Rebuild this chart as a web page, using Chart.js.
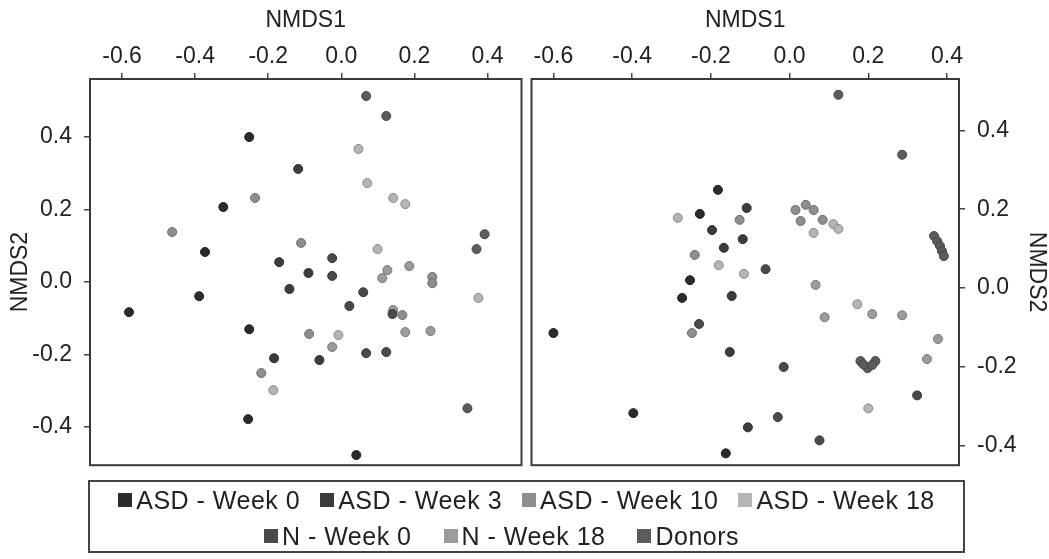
<!DOCTYPE html>
<html>
<head>
<meta charset="utf-8">
<script src="https://cdn.jsdelivr.net/npm/chart.js@4.4.1/dist/chart.umd.min.js"></script>
<style>
html,body{margin:0;padding:0;background:#fff;width:1049px;height:559px;overflow:hidden;font-family:"Liberation Sans",Arial,sans-serif;}
#w1{position:absolute;left:0;top:0;width:527px;height:491px;}
#w2{position:absolute;left:526px;top:0;width:523px;height:491px;}
#legend{position:absolute;left:88px;top:480px;width:873px;height:69px;border:2px solid #444;}
.row{position:absolute;left:0;right:0;height:30px;display:flex;justify-content:center;align-items:center;font-size:25px;letter-spacing:0.5px;color:#222;white-space:nowrap;}
#row1{top:3px;}
#row2{top:39px;padding-right:50px;box-sizing:border-box;}
.item{display:flex;align-items:center;margin:0 10px;}
#row2 .item{margin:0 16px;}
.sw{width:14px;height:14px;margin-right:4px;display:inline-block;}
</style>
</head>
<body>
<div id="w1"><canvas id="c1" width="527" height="491"></canvas></div>
<div id="w2"><canvas id="c2" width="523" height="491"></canvas></div>
<div id="legend"><div class="row" id="row1"></div><div class="row" id="row2"></div></div>
<script>
// ---- Data (NMDS1, NMDS2) ----
const groupNames = ["ASD - Week 0","ASD - Week 3","ASD - Week 10","ASD - Week 18","N - Week 0","N - Week 18","Donors"];
const groupColors = ["#2b2b2b","#3c3c3c","#8e8e8e","#b5b5b5","#4a4a4a","#9c9c9c","#5c5c5c"];
const xTicks = [-0.6,-0.4,-0.2,0.0,0.2,0.4];
const yTicks = [-0.4,-0.2,0.0,0.2,0.4];

// Left panel
const L_ASD_W0 = [[-0.252,0.40],[-0.323,0.207],[-0.373,0.083],[-0.581,-0.083],[-0.389,-0.039],[-0.252,-0.130],[-0.255,-0.378],[0.041,-0.477]];
const L_ASD_W3 = [[-0.118,0.312],[-0.170,0.055],[-0.090,0.025],[-0.142,-0.019],[-0.184,-0.210],[-0.060,-0.215]];
const L_ASD_W10 = [[-0.236,0.232],[-0.463,0.138],[-0.110,0.108],[-0.088,-0.143],[-0.219,-0.251],[0.249,0.014],[0.249,-0.003],[0.167,-0.091]];
const L_ASD_W18 = [[0.047,0.367],[0.071,0.273],[0.142,0.232],[0.175,0.215],[0.099,0.091],[0.375,-0.044],[-0.186,-0.298],[-0.008,-0.146]];
const L_N_W0 = [[-0.025,0.066],[-0.025,0.017],[0.060,-0.028],[0.022,-0.066],[0.068,-0.196],[0.123,-0.193],[0.140,-0.088]];
const L_N_W18 = [[0.186,0.044],[0.126,0.033],[0.112,0.011],[0.142,-0.077],[0.175,-0.138],[0.244,-0.135],[-0.025,-0.179]];
const L_DONORS = [[0.068,0.513],[0.123,0.458],[0.392,0.132],[0.370,0.091],[0.345,-0.348]];

// Right panel
const R_ASD_W0 = [[-0.182,0.249],[-0.228,0.188],[-0.253,0.020],[-0.273,-0.025],[-0.600,-0.114],[-0.397,-0.317],[-0.162,-0.419]];
const R_ASD_W3 = [[-0.109,0.203],[-0.197,0.147],[-0.119,0.124],[-0.167,0.102],[-0.147,-0.020],[-0.152,-0.162],[-0.106,-0.353]];
const R_ASD_W10 = [[-0.127,0.173],[-0.241,0.084],[-0.248,-0.114],[0.015,0.198],[0.041,0.211],[0.061,0.198],[0.028,0.170],[0.084,0.173]];
const R_ASD_W18 = [[-0.284,0.178],[-0.180,0.058],[-0.116,0.036],[0.111,0.162],[0.124,0.150],[0.061,0.140],[0.172,-0.041],[0.200,-0.305]];
const R_N_W0 = [[-0.061,0.048],[-0.015,-0.200],[-0.030,-0.327],[0.076,-0.386],[0.324,-0.272],[-0.230,-0.091]];
const R_N_W18 = [[0.066,0.008],[0.089,-0.074],[0.210,-0.066],[0.286,-0.069],[0.377,-0.129],[0.349,-0.180]];
const R_DONORS = [[0.124,0.490],[0.286,0.338],[0.367,0.132],[0.375,0.119],[0.382,0.107],[0.387,0.094],[0.392,0.081],[0.180,-0.185],[0.198,-0.203],[0.218,-0.185],[0.187,-0.193],[0.210,-0.195]];

const leftGroups = [L_ASD_W0,L_ASD_W3,L_ASD_W10,L_ASD_W18,L_N_W0,L_N_W18,L_DONORS];
const rightGroups = [R_ASD_W0,R_ASD_W3,R_ASD_W10,R_ASD_W18,R_N_W0,R_N_W18,R_DONORS];

// ---- Rendering ----
const FAM = '"Liberation Sans", Arial, sans-serif';
const TXT = '#222';
function darker(hex){const n=parseInt(hex.slice(1),16);const f=v=>Math.max(0,Math.round(v*0.75));const r=f(n>>16),g=f((n>>8)&255),b=f(n&255);return `rgb(${r},${g},${b})`;}
function fmt(v){return Math.abs(v)<1e-9?'0.0':v.toFixed(1);}

const framePlugin = {id:'frame', afterDatasetsDraw(chart){const {ctx, chartArea:a}=chart; ctx.save(); ctx.strokeStyle='#3a3a3a'; ctx.lineWidth=2; ctx.strokeRect(a.left, a.top, a.right-a.left, a.bottom-a.top); ctx.restore();}};

function datasets(groups){
  return groups.map((g,i)=>({
    label: groupNames[i],
    data: g.map(p=>({x:p[0],y:p[1]})),
    backgroundColor: groupColors[i],
    borderColor: darker(groupColors[i]),
    borderWidth: 1,
    pointRadius: 4.5,
    pointHoverRadius: 4.5
  }));
}
function tickOpts(pad){
  return {stepSize:0.2, includeBounds:false, padding:pad, color:TXT, font:{family:FAM,size:23}, callback:fmt, maxRotation:0, autoSkip:false};
}
const gridOpts = {display:true, drawOnChartArea:false, drawTicks:true, tickLength:6, color:'#444', lineWidth:1.5};

function makeChart(id, groups, cfg){
  return new Chart(document.getElementById(id), {
    type:'scatter',
    data:{datasets:datasets(groups)},
    plugins:[framePlugin],
    options:{
      responsive:false, animation:false, events:[],
      layout:{padding:cfg.padding},
      plugins:{legend:{display:false}, tooltip:{enabled:false}},
      scales:{
        x:{type:'linear', position:'top', min:cfg.xmin, max:cfg.xmax,
           afterFit(s){s.height=79;},
           afterBuildTicks(s){s.ticks = xTicks.map(v=>({value:v}));},
           ticks:tickOpts(3), grid:gridOpts, border:{display:false},
           title:{display:true, text:'NMDS1', color:TXT, font:{family:FAM,size:23,lineHeight:1.2}, padding:{top:7,bottom:0}}},
        y:{type:'linear', position:cfg.ypos, min:cfg.ymin, max:cfg.ymax,
           afterFit(s){s.width=90;},
           afterBuildTicks(s){s.ticks = yTicks.map(v=>({value:v}));},
           ticks:tickOpts(12), grid:gridOpts, border:{display:false},
           title:{display:true, text:'NMDS2', color:TXT, font:{family:FAM,size:23,lineHeight:cfg.ytlh}, padding:cfg.ytpad}}
      }
    }
  });
}

const c1 = makeChart('c1', leftGroups, {padding:{left:0,right:2,top:0,bottom:0}, xmin:-0.6877, xmax:0.493, ymin:-0.505, ymax:0.56, ypos:'left', ytlh:1.2, ytpad:{top:7,bottom:0}});
const c2 = makeChart('c2', rightGroups, {padding:{left:4,right:0,top:0,bottom:0}, xmin:-0.6557, xmax:0.4304, ymin:-0.449, ymax:0.530, ypos:'right', ytlh:1.0, ytpad:{top:1,bottom:0}});

// Legend
function addItem(rowId, i){
  const it=document.createElement('div'); it.className='item';
  const sw=document.createElement('span'); sw.className='sw'; sw.style.background=groupColors[i];
  const tx=document.createElement('span'); tx.textContent=groupNames[i];
  it.appendChild(sw); it.appendChild(tx);
  document.getElementById(rowId).appendChild(it);
}
[0,1,2,3].forEach(i=>addItem('row1',i));
[4,5,6].forEach(i=>addItem('row2',i));
</script>
</body>
</html>
